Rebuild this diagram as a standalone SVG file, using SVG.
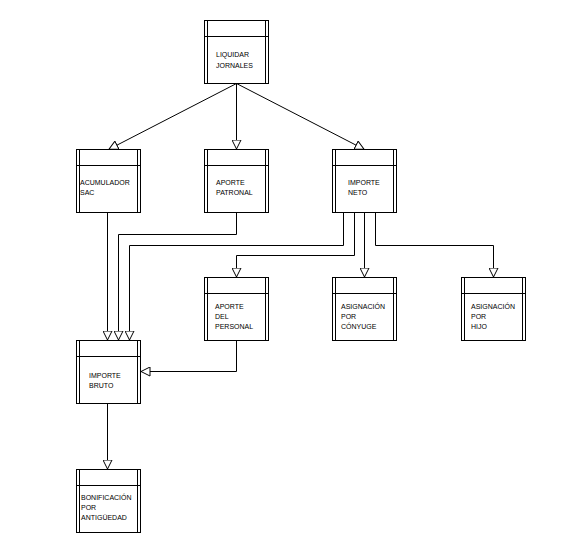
<svg xmlns="http://www.w3.org/2000/svg" width="566" height="556" viewBox="0 0 566 556">
<style>
.box{fill:#fff;stroke:#000;stroke-width:1}
.ln{fill:none;stroke:#000;stroke-width:1}
.t{font-family:"Liberation Sans",Arial,sans-serif;font-size:7px;fill:#000}
</style>
<defs>
<marker id="ah" viewBox="0 0 10 10" refX="10" refY="5" markerWidth="10" markerHeight="10" markerUnits="userSpaceOnUse" orient="auto">
<path d="M0.5,0.5 L9.5,5 L0.5,9.5 z" fill="#fff" stroke="#000" stroke-width="1"/>
</marker>
</defs>
<rect width="566" height="556" fill="#fff"/>
<g id="connectors" class="ln">
<path d="M236.5,83.5 L108.5,149.5" marker-end="url(#ah)"/>
<path d="M236.5,83.5 L236.5,149.5" marker-end="url(#ah)"/>
<path d="M236.5,83.5 L364.5,149.5" marker-end="url(#ah)"/>
<path d="M107.5,212.5 L107.5,340.5" marker-end="url(#ah)"/>
<path d="M236.5,212.5 L236.5,234.5 L118.5,234.5 L118.5,340.5" marker-end="url(#ah)"/>
<path d="M343.5,212.5 L343.5,245.5 L129.5,245.5 L129.5,340.5" marker-end="url(#ah)"/>
<path d="M354.5,212.5 L354.5,255.5 L236.5,255.5 L236.5,277.5" marker-end="url(#ah)"/>
<path d="M364.5,212.5 L364.5,277.5" marker-end="url(#ah)"/>
<path d="M375.5,212.5 L375.5,245.5 L493.5,245.5 L493.5,277.5" marker-end="url(#ah)"/>
<path d="M236.5,340.5 L236.5,371.5 L140.5,371.5" marker-end="url(#ah)"/>
<path d="M107.5,403.5 L107.5,469.5" marker-end="url(#ah)"/>
</g>
<g id="liquidar">
<rect class="box" x="204.5" y="20.5" width="64" height="63"/>
<path class="ln" d="M207.5,20.5V83.5M265.5,20.5V83.5M204.5,36.5H268.5"/>
<text class="t" x="216" y="57">LIQUIDAR</text>
<text class="t" x="216" y="68">JORNALES</text>
</g>
<g id="acumulador">
<rect class="box" x="76.5" y="149.5" width="64" height="63"/>
<path class="ln" d="M79.5,149.5V212.5M137.5,149.5V212.5M76.5,165.5H140.5"/>
<text class="t" x="80" y="185">ACUMULADOR</text>
<text class="t" x="80" y="195">SAC</text>
</g>
<g id="aporte-patronal">
<rect class="box" x="204.5" y="149.5" width="64" height="63"/>
<path class="ln" d="M207.5,149.5V212.5M265.5,149.5V212.5M204.5,165.5H268.5"/>
<text class="t" x="216" y="185">APORTE</text>
<text class="t" x="216" y="195">PATRONAL</text>
</g>
<g id="importe-neto">
<rect class="box" x="332.5" y="149.5" width="64" height="63"/>
<path class="ln" d="M335.5,149.5V212.5M393.5,149.5V212.5M332.5,165.5H396.5"/>
<text class="t" x="348" y="185">IMPORTE</text>
<text class="t" x="348" y="195">NETO</text>
</g>
<g id="aporte-personal">
<rect class="box" x="204.5" y="277.5" width="64" height="63"/>
<path class="ln" d="M207.5,277.5V340.5M265.5,277.5V340.5M204.5,293.5H268.5"/>
<text class="t" x="215" y="309">APORTE</text>
<text class="t" x="215" y="319">DEL</text>
<text class="t" x="215" y="329">PERSONAL</text>
</g>
<g id="asignacion-conyuge">
<rect class="box" x="332.5" y="277.5" width="64" height="63"/>
<path class="ln" d="M335.5,277.5V340.5M393.5,277.5V340.5M332.5,293.5H396.5"/>
<text class="t" x="341" y="309">ASIGNACIÓN</text>
<text class="t" x="341" y="319">POR</text>
<text class="t" x="341" y="329">CÓNYUGE</text>
</g>
<g id="asignacion-hijo">
<rect class="box" x="461.5" y="277.5" width="64" height="63"/>
<path class="ln" d="M464.5,277.5V340.5M522.5,277.5V340.5M461.5,293.5H525.5"/>
<text class="t" x="471" y="309">ASIGNACIÓN</text>
<text class="t" x="471" y="319">POR</text>
<text class="t" x="471" y="329">HIJO</text>
</g>
<g id="importe-bruto">
<rect class="box" x="76.5" y="340.5" width="64" height="63"/>
<path class="ln" d="M79.5,340.5V403.5M137.5,340.5V403.5M76.5,356.5H140.5"/>
<text class="t" x="89" y="378">IMPORTE</text>
<text class="t" x="89" y="388">BRUTO</text>
</g>
<g id="bonificacion">
<rect class="box" x="76.5" y="469.5" width="64" height="63"/>
<path class="ln" d="M79.5,469.5V532.5M137.5,469.5V532.5M76.5,485.5H140.5"/>
<text class="t" x="81" y="500">BONIFICACIÓN</text>
<text class="t" x="81" y="510">POR</text>
<text class="t" x="81" y="520">ANTIGÜEDAD</text>
</g>
</svg>
